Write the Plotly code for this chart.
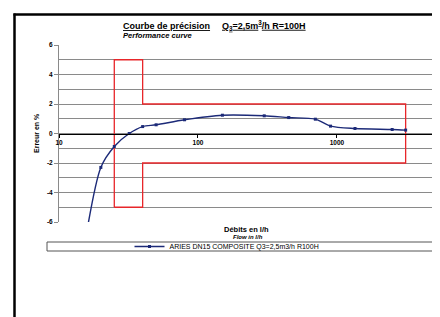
import plotly.graph_objects as go

# ---- data ----
flow_lh = [15, 20, 25, 32, 40, 50, 80, 150, 300, 450, 700, 900, 1350, 2500, 3125]
error_pct = [-8.0, -2.3, -0.88, 0.0, 0.47, 0.59, 0.93, 1.24, 1.2, 1.08, 0.97, 0.5, 0.34, 0.27, 0.23]

# maximum permissible error envelope (Q1=25, Q2=40, Q4=3125 l/h)
mpe_x = [25, 25, 40, 40, 3125, 3125, 40, 40, 25]
mpe_y = [-5, 5, 5, 2, 2, -2, -2, -5, -5]

x_tickvals = [10, 100, 1000]
x_ticktext = ["10", "100", "1000"]
y_tickvals = [-6, -4, -2, 0, 2, 4, 6]
y_ticktext = ["-6", "-4", "-2", "0", "2", "4", "6"]

series_name = "ARIES DN15 COMPOSITE Q3=2,5m3/h R100H"

W, H = 440, 317
L, R, T, B = 51, 14, 37, 103
PW, PH = W - L - R, H - T - B
FONT = "Liberation Sans, Arial, sans-serif"
GRID = "#8a8a8a"


def px(x):
    return (x - L) / PW


def py(y):
    return (H - B - y) / PH


fig = go.Figure()

fig.add_trace(go.Scatter(
    x=mpe_x, y=mpe_y, mode="lines",
    line=dict(color="#e8262a", width=1.3),
    showlegend=False, hoverinfo="skip",
))

fig.add_trace(go.Scatter(
    x=flow_lh, y=error_pct, mode="lines+markers",
    name=series_name,
    line=dict(color="#1c2a78", width=1.4, shape="spline", smoothing=0.8),
    marker=dict(symbol="square", size=3, color="#1c2a78"),
))

fig.update_layout(
    width=W, height=H,
    margin=dict(l=L, r=R, t=T, b=B, autoexpand=False),
    paper_bgcolor="white", plot_bgcolor="white",
    font=dict(family=FONT, color="black"),
    showlegend=True,
    legend=dict(
        orientation="h", x=px(219), y=py(238.5),
        xanchor="center", yanchor="middle",
        font=dict(size=7, family=FONT),
        itemwidth=30, bgcolor="rgba(0,0,0,0)",
    ),
    xaxis=dict(
        type="log", range=[1, 3.69897],
        anchor="free", position=0.5,
        automargin=False,
        showgrid=False, zeroline=False,
        showline=True, linecolor="black", linewidth=1,
        tickvals=x_tickvals, ticktext=x_ticktext,
        ticks="outside", ticklen=3, tickcolor="black",
        tickfont=dict(size=6.5, family=FONT, weight="bold"),
    ),
    yaxis=dict(
        range=[-6, 6],
        automargin=False,
        tickvals=y_tickvals, ticktext=y_ticktext,
        showgrid=True, gridcolor=GRID, gridwidth=1,
        minor=dict(dtick=1, showgrid=True, gridcolor=GRID, gridwidth=1, ticks=""),
        zeroline=False,
        showline=True, linecolor=GRID, linewidth=1, mirror=True,
        ticks="outside", ticklen=4, tickcolor=GRID,
        tickfont=dict(size=6.5, family=FONT, weight="bold"),
    ),
)

shapes = [
    # outer frame (left and top)
    dict(type="line", xref="paper", yref="paper", x0=px(6.5), x1=px(6.5), y0=py(H), y1=py(5.5),
         line=dict(color="black", width=2.5)),
    dict(type="line", xref="paper", yref="paper", x0=px(5.5), x1=px(W), y0=py(6.5), y1=py(6.5),
         line=dict(color="black", width=2.5)),
    # legend box
    dict(type="rect", xref="paper", yref="paper", x0=px(39), x1=px(425),
         y0=py(243), y1=py(234), line=dict(color="#555555", width=1), layer="below"),
]
fig.update_layout(shapes=shapes)

U = '<span style="text-decoration:underline">{}</span>'
ann = [
    dict(text="<b>" + U.format("Courbe de précision") + "</b>", x=px(113), y=py(17.5),
         xanchor="left", yanchor="middle", font=dict(size=9, family=FONT)),
    dict(text="<b>" + U.format("Q<sub>3</sub>=2,5m<sup>3</sup>/h R=100H") + "</b>", x=px(212), y=py(17.5),
         xanchor="left", yanchor="middle", font=dict(size=9, family=FONT)),
    dict(text="<b><i>Performance curve</i></b>", x=px(113), y=py(27), xanchor="left", yanchor="middle",
         font=dict(size=7.6, family=FONT)),
    dict(text="<b>Erreur en %</b>", x=px(28), y=py(125), xanchor="center", yanchor="middle",
         textangle=-90, font=dict(size=7, family=FONT)),
    dict(text="<b>Débits en l/h</b>", x=px(238), y=py(221), xanchor="center", yanchor="middle",
         font=dict(size=7.5, family=FONT)),
    dict(text="<b><i>Flow in l/h</i></b>", x=px(240), y=py(229), xanchor="center", yanchor="middle",
         font=dict(size=6, family=FONT)),
]
for a in ann:
    a.update(xref="paper", yref="paper", showarrow=False)
fig.update_layout(annotations=ann)

fig.write_html("out.html")
